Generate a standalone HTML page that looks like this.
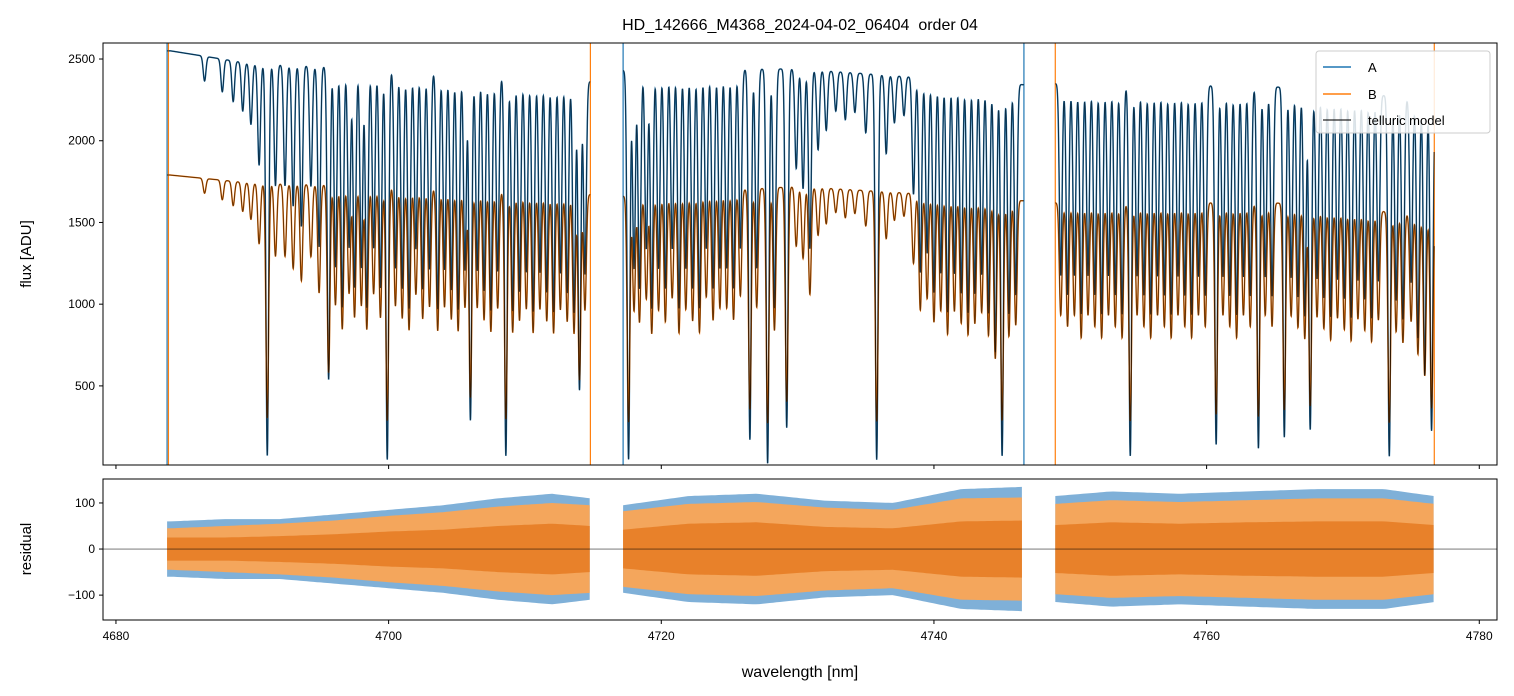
<!DOCTYPE html>
<html><head><meta charset="utf-8">
<style>
body{margin:0;background:#fff;}
svg{display:block;font-family:"Liberation Sans","DejaVu Sans",sans-serif;}
</style></head>
<body>
<svg id="chart" width="1514" height="696" xmlns="http://www.w3.org/2000/svg">
<defs>
<clipPath id="clipTop"><rect x="103" y="43" width="1394" height="422"/></clipPath>
<clipPath id="clipBot"><rect x="103" y="479" width="1394" height="141"/></clipPath>
</defs>
<rect x="0" y="0" width="1514" height="696" fill="#fff"/>
<text x="800" y="30" text-anchor="middle" font-size="16" fill="#000" style="white-space:pre">HD_142666_M4368_2024-04-02_06404  order 04</text>
<g id="topPlot" clip-path="url(#clipTop)"></g>
<g id="botPlot" clip-path="url(#clipBot)"></g>
<g id="axes"></g>
<text transform="translate(31,254) rotate(-90)" text-anchor="middle" font-size="15">flux [ADU]</text>
<text transform="translate(31,549) rotate(-90)" text-anchor="middle" font-size="15">residual</text>
<text x="800" y="677" text-anchor="middle" font-size="16">wavelength [nm]</text>
<g>
<rect x="1316" y="51" width="174" height="82" rx="3" fill="#fff" fill-opacity="0.85" stroke="#ccc"/>
<line x1="1323" y1="67" x2="1351" y2="67" stroke="#1f77b4" stroke-width="1.5"/>
<text x="1368" y="72" font-size="13">A</text>
<line x1="1323" y1="94" x2="1351" y2="94" stroke="#ff7f0e" stroke-width="1.5"/>
<text x="1368" y="99" font-size="13">B</text>
<line x1="1323" y1="120" x2="1351" y2="120" stroke="#000" stroke-opacity="0.7" stroke-width="1.5"/>
<text x="1368" y="125" font-size="13">telluric model</text>
</g>
</svg>
<script>
// ---- data ----
const segments = [[4683.75,4714.8],[4717.2,4746.6],[4748.9,4776.7]];
const contWl = [4684,4690,4700,4712,4715,4717,4730,4740,4747,4749,4765,4777];
const contA  = [2550,2470,2440,2380,2360,2430,2440,2380,2340,2350,2330,2250];
const contB  = [1790,1740,1720,1680,1670,1660,1720,1670,1630,1620,1620,1540];
const lineWl = [4686.5,4687.8,4688.6,4689.3,4689.9,4690.5,4691.1,4691.7,4692.4,4693.0,4693.6,4694.3,4694.9,4695.6,4696.1,4696.6,4697.1,4697.5,4698.0,4698.4,4698.9,4699.4,4699.9,4700.5,4701.0,4701.5,4702.0,4702.5,4703.0,4703.6,4704.1,4704.6,4705.1,4705.6,4706.0,4706.5,4707.0,4707.5,4708.0,4708.6,4709.1,4709.6,4710.1,4710.6,4711.1,4711.6,4712.1,4712.6,4713.1,4713.6,4714.0,4714.4,
4717.6,4718.0,4718.4,4718.9,4719.3,4719.8,4720.3,4720.8,4721.3,4721.8,4722.3,4722.8,4723.3,4723.8,4724.3,4724.8,4725.3,4725.8,4726.5,4727.0,4727.8,4728.3,4729.2,4729.9,4730.4,4730.9,4731.5,4732.1,4732.8,4733.5,4734.2,4735.0,4735.8,4736.5,4737.1,4737.8,4738.5,4739.0,4739.5,4740.0,4740.5,4741.0,4741.5,4742.0,4742.5,4743.0,4743.5,4744.0,4744.5,4745.0,4745.5,4746.0,
4749.3,4749.8,4750.3,4750.8,4751.3,4751.8,4752.3,4752.8,4753.3,4753.8,4754.4,4754.9,4755.4,4755.9,4756.4,4756.9,4757.4,4757.9,4758.4,4758.9,4759.4,4759.9,4760.7,4761.2,4761.7,4762.2,4762.7,4763.2,4763.8,4764.3,4764.8,4765.7,4766.2,4766.7,4767.2,4767.6,4768.1,4768.6,4769.1,4769.6,4770.1,4770.6,4771.1,4771.6,4772.1,4772.6,4773.4,4773.9,4774.4,4775.0,4775.5,4776.0,4776.5];
const lineDepth = [.06,.08,.1,.12,.15,.25,.97,.3,.3,.35,.4,.3,.45,.78,.5,.6,.45,.55,.5,.6,.45,.55,.98,.5,.55,.6,.45,.55,.5,.6,.5,.55,.6,.5,.88,.5,.55,.6,.5,.97,.6,.55,.5,.6,.5,.55,.6,.5,.55,.6,.8,.5,
.98,.5,.55,.45,.6,.5,.55,.45,.6,.5,.55,.6,.45,.55,.5,.5,.55,.45,.93,.5,.99,.6,.9,.25,.3,.45,.2,.15,.1,.12,.1,.15,.98,.2,.12,.1,.3,.5,.45,.55,.5,.6,.5,.55,.6,.55,.5,.6,.7,.97,.6,.55,
.5,.55,.5,.6,.5,.55,.6,.5,.55,.6,.97,.5,.55,.6,.5,.55,.6,.5,.55,.6,.5,.55,.94,.5,.55,.6,.5,.55,.95,.5,.55,.92,.5,.55,.6,.9,.5,.55,.6,.5,.55,.6,.5,.55,.6,.5,.97,.55,.6,.5,.65,.75,.9];
const resWl      = [4684,4688,4692,4696,4700,4704,4708,4712,4714.8,4717.2,4722,4727,4732,4737,4742,4746.6,4748.9,4753,4758,4763,4768,4773,4776.7];
const resOuterA  = [60,65,65,75,85,95,110,120,110,95,115,120,105,100,130,135,115,125,120,125,130,130,115];
const resOuterB  = [45,50,55,62,72,80,92,100,95,82,98,102,90,85,110,112,98,106,102,106,110,110,98];
const resCoreB   = [25,25,28,32,38,42,50,55,50,42,55,58,48,45,60,62,52,58,55,58,60,60,52];
const xTicks = [4680,4700,4720,4740,4760,4780];
const yTicksTop = [500,1000,1500,2000,2500];
const yTicksBot = [-100,0,100];
// ---- scales ----
const X = w => 103 + (w - 4679.05) * (1394 / (4781.3 - 4679.05));
const YT = v => 43 + (2598 - v) * (422 / (2598 - 16));
const YB = v => 479 + (152 - v) * (141 / 306);
function interp(xs, ys, x){
  if (x <= xs[0]) return ys[0];
  for (let i = 1; i < xs.length; i++) if (x <= xs[i]) { const t = (x - xs[i-1]) / (xs[i] - xs[i-1]); return ys[i-1] + t * (ys[i] - ys[i-1]); }
  return ys[ys.length-1];
}
function trans(w, scale){
  let t = 1;
  for (let i = 0; i < lineWl.length; i++) { const d = w - lineWl[i]; if (Math.abs(d) < 0.5) t *= 1 - lineDepth[i] * scale * Math.exp(-d*d/(2*0.1*0.1)); }
  return t;
}
const NS = 'http://www.w3.org/2000/svg';
function mk(tag, attrs, parent){ const e = document.createElementNS(NS, tag); for (const k in attrs) e.setAttribute(k, attrs[k]); parent.appendChild(e); return e; }
const topG = document.getElementById('topPlot'), botG = document.getElementById('botPlot'), axesG = document.getElementById('axes');
// spectra
const series = [{c:contA, col:'#1f77b4', s:1.0, name:'series-a-flux'},{c:contB, col:'#ff7f0e', s:0.85, name:'series-b-flux'}];
const modelPaths = [];
series.forEach(sr => {
  let d = '';
  segments.forEach(seg => {
    let first = true;
    for (let w = seg[0]; w <= seg[1]; w += 0.012) {
      const v = interp(contWl, sr.c, w) * trans(w, sr.s);
      d += (first ? 'M' : 'L') + X(w).toFixed(2) + ',' + YT(v).toFixed(2); first = false;
    }
  });
  const el = mk('path', {d:d, fill:'none', stroke:sr.col, 'stroke-width':1.5}, topG);
  
  
  modelPaths.push(d);
});
// edge spikes
[[4683.75,'#1f77b4'],[4683.85,'#ff7f0e'],[4714.8,'#ff7f0e'],[4717.2,'#1f77b4'],[4746.6,'#1f77b4'],[4748.9,'#ff7f0e'],[4776.7,'#ff7f0e']].forEach(s => {
  const el = mk('line', {x1:X(s[0]), x2:X(s[0]), y1:43, y2:465, stroke:s[1], 'stroke-width':1.2}, topG);
  
  
});
modelPaths.forEach(dm => {
  const el = mk('path', {d:dm, fill:'none', stroke:'#000', 'stroke-opacity':0.6, 'stroke-width':1}, topG);
  
  
});
// residual bands (opaque to avoid muddy blending)
[[resOuterA,'#7fb0d8','residual-a-band'],[resOuterB,'#f4a65c','residual-b-band'],[resCoreB,'#e8812a','residual-b-core']].forEach(r => {
  segments.forEach(seg => {
    const up = [], lo = [];
    for (let w = seg[0]; w <= seg[1] + 1e-6; w += 0.25) {
      const a = interp(resWl, r[0], w);
      up.push(X(w).toFixed(1) + ',' + YB(a).toFixed(1));
      lo.unshift(X(w).toFixed(1) + ',' + YB(-a).toFixed(1));
    }
    const el = mk('polygon', {points: up.concat(lo).join(' '), fill:r[1]}, botG);
    
    
  });
});
const zl = mk('line', {x1:103, x2:1497, y1:YB(0), y2:YB(0), stroke:'#000', 'stroke-opacity':0.6, 'stroke-width':0.8}, botG);


// frames
[[43,422,'flux-axes-frame'],[479,141,'residual-axes-frame']].forEach(f => {
  const el = mk('rect', {x:103, y:f[0], width:1394, height:f[1], fill:'none', stroke:'#000', 'stroke-width':1}, axesG);
  
  
});
xTicks.forEach(t => {
  const x = X(t);
  mk('line', {x1:x, x2:x, y1:465, y2:469, stroke:'#000'}, axesG);
  mk('line', {x1:x, x2:x, y1:620, y2:624, stroke:'#000'}, axesG);
  const tx = mk('text', {x:x, y:640, 'text-anchor':'middle', 'font-size':12}, axesG);
  tx.textContent = t;
  
  
});
yTicksTop.forEach(t => {
  const y = YT(t);
  mk('line', {x1:99, x2:103, y1:y, y2:y, stroke:'#000'}, axesG);
  const tx = mk('text', {x:95, y:y+4, 'text-anchor':'end', 'font-size':12}, axesG);
  tx.textContent = t;
  
  
});
yTicksBot.forEach(t => {
  const y = YB(t);
  mk('line', {x1:99, x2:103, y1:y, y2:y, stroke:'#000'}, axesG);
  const tx = mk('text', {x:95, y:y+4, 'text-anchor':'end', 'font-size':12}, axesG);
  tx.textContent = t === -100 ? '\u2212100' : t;
  
  
});
</script>
</body></html>
